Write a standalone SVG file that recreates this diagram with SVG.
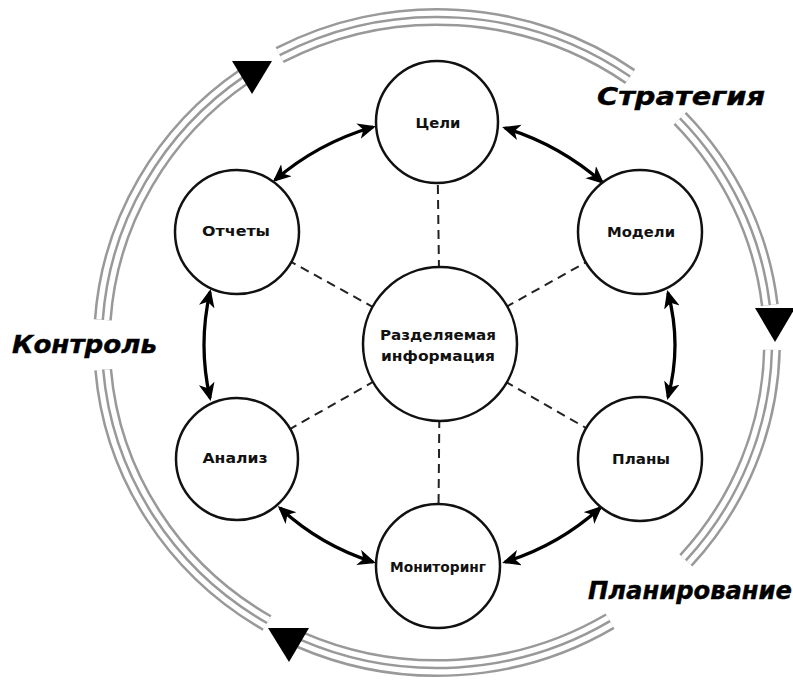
<svg xmlns="http://www.w3.org/2000/svg" width="793" height="681" viewBox="0 0 793 681">
<style>
.ring{fill:none;stroke-linecap:butt}
.r1{stroke:#999;stroke-width:18}
.r2{stroke:#fff;stroke-width:13}
.r3{stroke:#999;stroke-width:2.5}
.tri{fill:#000}
.node{fill:#fff;stroke:#111;stroke-width:2.5}
.dash{stroke:#222;stroke-width:2;stroke-dasharray:9,6;fill:none}
.arr{fill:none;stroke:#000;stroke-width:3.3;marker-start:url(#ah);marker-end:url(#ah)}
.lbl{font-family:"DejaVu Sans","Liberation Sans",sans-serif;font-weight:bold;font-size:14px;fill:#111;text-anchor:middle}
.big{font-family:"DejaVu Sans","Liberation Sans",sans-serif;font-weight:bold;font-style:italic;font-size:24px;fill:#000;stroke:#000;stroke-width:0.4}
</style>
<defs>
<marker id="ah" markerUnits="userSpaceOnUse" markerWidth="20" markerHeight="18" refX="15" refY="8" orient="auto-start-reverse" viewBox="0 0 20 18">
<path d="M0,0 L18,8 L0,16 L5,8 z" fill="#000"/>
</marker>
<path id="sA" d="M279.7,55.1 A335,325.5 0 0 1 630.1,76.5"/>
<path id="sB" d="M680.0,118.4 A335,325.5 0 0 1 769.8,305.1"/>
<path id="sC" d="M771.9,349.9 A335,325.5 0 0 1 685.9,560.3"/>
<path id="sD" d="M610.0,621.2 A335,325.5 0 0 1 300.7,639.9"/>
<path id="sE" d="M267.0,623.0 A335,325.5 0 0 1 103.2,369.7"/>
<path id="sF" d="M102.8,319.8 A335,325.5 0 0 1 244.9,75.9"/>
</defs>
<rect width="793" height="681" fill="#fff"/>

<g id="ring">
<use href="#sA" class="ring r1"/><use href="#sA" class="ring r2"/><use href="#sA" class="ring r3"/>
<use href="#sB" class="ring r1"/><use href="#sB" class="ring r2"/><use href="#sB" class="ring r3"/>
<use href="#sC" class="ring r1"/><use href="#sC" class="ring r2"/><use href="#sC" class="ring r3"/>
<use href="#sD" class="ring r1"/><use href="#sD" class="ring r2"/><use href="#sD" class="ring r3"/>
<use href="#sE" class="ring r1"/><use href="#sE" class="ring r2"/><use href="#sE" class="ring r3"/>
<use href="#sF" class="ring r1"/><use href="#sF" class="ring r2"/><use href="#sF" class="ring r3"/>
<polygon class="tri" points="232,61 272,61 252,94"/>
<polygon class="tri" points="755,308 795,308 775,342"/>
<polygon class="tri" points="268,628 309,628 289,662"/>
<text class="big" x="597" y="105" textLength="168" lengthAdjust="spacingAndGlyphs">Стратегия</text>
<text class="big" x="12" y="353" textLength="145" lengthAdjust="spacingAndGlyphs">Контроль</text>
<text class="big" x="588" y="599" textLength="204" lengthAdjust="spacingAndGlyphs">Планирование</text>
</g>

<g id="connectors">
<line class="dash" x1="440" y1="344" x2="437" y2="122"/>
<line class="dash" x1="440" y1="344" x2="237" y2="232"/>
<line class="dash" x1="440" y1="344" x2="640" y2="232"/>
<line class="dash" x1="440" y1="344" x2="237" y2="459"/>
<line class="dash" x1="440" y1="344" x2="640" y2="459"/>
<line class="dash" x1="440" y1="344" x2="438" y2="566"/>
<path class="arr" d="M373,127 Q318,143 275,180"/>
<path class="arr" d="M505,128 Q559,144.5 602,182"/>
<path class="arr" d="M210,292 Q198,345 210,398"/>
<path class="arr" d="M668,293 Q682,345 668,397"/>
<path class="arr" d="M280,508 Q320.5,545.4 373,562"/>
<path class="arr" d="M505,562 Q558.4,545.5 600,508"/>
</g>

<g id="center"><circle class="node" cx="440" cy="344" r="77"/>
<text class="lbl" x="438" y="340" textLength="116" lengthAdjust="spacingAndGlyphs">Разделяемая</text>
<text class="lbl" x="438" y="361" textLength="114" lengthAdjust="spacingAndGlyphs">информация</text></g>
<g id="celi"><circle class="node" cx="437" cy="122" r="61"/>
<text class="lbl" x="438" y="128" textLength="45" lengthAdjust="spacingAndGlyphs">Цели</text></g>
<g id="otchety"><circle class="node" cx="237" cy="232" r="62"/>
<text class="lbl" x="236" y="236" textLength="68" lengthAdjust="spacingAndGlyphs">Отчеты</text></g>
<g id="modeli"><circle class="node" cx="640" cy="232" r="62"/>
<text class="lbl" x="641" y="237" textLength="68" lengthAdjust="spacingAndGlyphs">Модели</text></g>
<g id="analiz"><circle class="node" cx="237" cy="459" r="61"/>
<text class="lbl" x="235" y="463" textLength="65" lengthAdjust="spacingAndGlyphs">Анализ</text></g>
<g id="plany"><circle class="node" cx="640" cy="459" r="62"/>
<text class="lbl" x="641" y="464" textLength="58" lengthAdjust="spacingAndGlyphs">Планы</text></g>
<g id="monitoring"><circle class="node" cx="438" cy="566" r="62"/>
<text class="lbl" x="438" y="572" textLength="96" lengthAdjust="spacingAndGlyphs">Мониторинг</text></g>
</svg>
